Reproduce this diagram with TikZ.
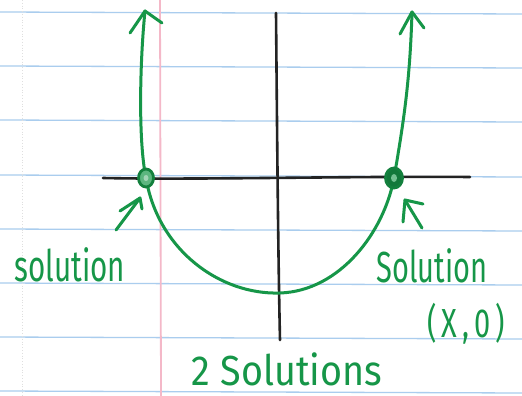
\documentclass[tikz,border=0pt]{standalone}
\usepackage{fontspec}
\setmainfont{Fira Sans}
\definecolor{penGreen}{RGB}{22,150,72}
\definecolor{ruleBlue}{RGB}{170,205,238}
\definecolor{marginPink}{RGB}{244,184,200}
\definecolor{axisInk}{RGB}{35,35,35}
\tikzset{
  ruling/.style={ruleBlue, line width=1.3pt},
  margin/.style={marginPink, line width=1.8pt},
  axisline/.style={axisInk, line width=2.6pt, line cap=round},
  greenpen/.style={penGreen, line width=3pt, line cap=round, line join=round},
  hand/.style={penGreen, inner sep=0pt, font=\fontsize{29}{29}\selectfont}
}
\begin{document}
\begin{tikzpicture}[x=1pt,y=-1pt]
\useasboundingbox (0,0) rectangle (522,396);
\fill[white] (0,0) rectangle (522,396);
% ruled paper
\foreach \y in {12,66,120,175,229,283,337,391}
  \draw[ruling] (0,\y) -- (522,\y+2);
\draw[gray!25, dotted, line width=0.8pt] (22,0) -- (22,396);
\draw[margin] (160,0) -- (161,396);
% axes
\coordinate (xl) at (103,178);
\coordinate (xr) at (470,177);
\coordinate (yt) at (276,13);
\coordinate (yb) at (280,340);
\draw[axisline] (xl) .. controls (200,180) and (350,176) .. (xr);
\draw[axisline] (yt) .. controls (277,120) and (278,250) .. (yb);
% parabola
\coordinate (ltip) at (145,11);
\coordinate (rtip) at (412,12);
\coordinate (lroot) at (146,178);
\coordinate (rroot) at (394,178);
\coordinate (vertex) at (280,293);
\draw[greenpen] (ltip) .. controls (140,60) and (138,140) .. (lroot)
  .. controls (158,250) and (220,295) .. (vertex)
  .. controls (340,291) and (384,232) .. (rroot)
  .. controls (404,120) and (410,80) .. (rtip);
% arrowheads at ends
\draw[greenpen] (130,33) -- (ltip) -- (162,23);
\draw[greenpen] (400,34) -- (rtip) -- (424,28);
% root circles
\fill[penGreen!70] (lroot) ellipse (7.5 and 9);
\draw[penGreen!85!black, line width=2.8pt] (lroot) ellipse (7.5 and 9);
\fill[white!60!penGreen] (lroot) ellipse (2.5 and 3);
\draw[penGreen!85!black, line width=2.8pt, fill=penGreen!80!black] (rroot) ellipse (8.5 and 10);
\fill[penGreen!60] (rroot) ellipse (3 and 4);
% pointer arrows
\coordinate (la) at (116,230);
\coordinate (lh) at (140,198);
\draw[greenpen] (la) -- (lh);
\draw[greenpen] (120,211) -- (lh) -- (142,209);
\coordinate (ra) at (422,228);
\coordinate (rh) at (405,200);
\draw[greenpen] (ra) -- (rh);
\draw[greenpen] (403,222) -- (rh) -- (423,204);
% labels
\node[hand, anchor=base] (lsol) at (70,281) {\scalebox{1.02}[1.5]{solution}};
\node[hand, anchor=base] (rsol) at (432,282) {\scalebox{1.0}[1.5]{Solution}};
\node[hand, anchor=base] (pt) at (466,337) {\scalebox{1.0}[1.4]{(\,X\,,\,0\,)}};
\node[hand, anchor=base] (two) at (287,385) {\scalebox{1.3}[1.45]{2 Solutions}};
\end{tikzpicture}
\end{document}
